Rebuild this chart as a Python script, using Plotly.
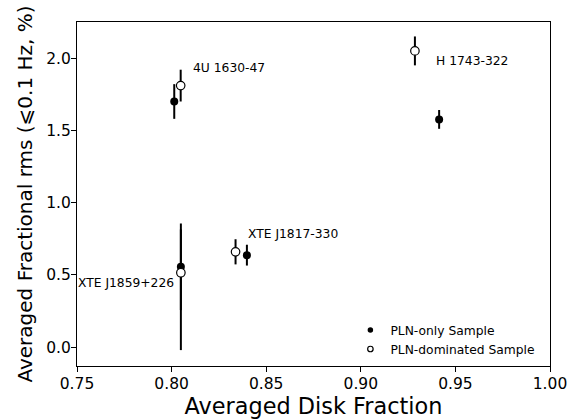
import plotly.graph_objects as go

# PLN-only sample (filled)
only_x = [0.8014, 0.9414, 0.8049, 0.8398]
only_y = [1.70, 1.576, 0.556, 0.637]
only_err = [0.12, 0.065, 0.30, 0.072]

# PLN-dominated sample (open)
dom_x = [0.8048, 0.9286, 0.8049, 0.8338]
dom_y = [1.81, 2.05, 0.515, 0.66]
dom_err_plus = [0.11, 0.10, 0.30, 0.087]
dom_err_minus = [0.11, 0.10, 0.535, 0.087]

# source labels
src_names = ["4U 1630-47", "H 1743-322", "XTE J1859+226", "XTE J1817-330"]
src_x = [0.8101, 0.9386, 0.8023, 0.8393]
src_y = [1.935, 1.978, 0.443, 0.782]
src_anchor = ["left", "left", "right", "left"]

xticks = [0.75, 0.80, 0.85, 0.90, 0.95, 1.00]
yticks = [0.0, 0.5, 1.0, 1.5, 2.0]

FONT = "DejaVu Sans"

fig = go.Figure()
fig.add_trace(go.Scatter(
    x=only_x, y=only_y, mode="markers", showlegend=False,
    marker=dict(symbol="circle", size=8, color="black", line=dict(width=0)),
    error_y=dict(type="data", array=only_err, symmetric=True, color="black", thickness=2, width=0),
))
fig.add_trace(go.Scatter(
    x=dom_x, y=dom_y, mode="markers", showlegend=False,
    marker=dict(symbol="circle", size=8.5, color="white", line=dict(width=1.2, color="black")),
    error_y=dict(type="data", array=dom_err_plus, arrayminus=dom_err_minus, symmetric=False,
                 color="black", thickness=2, width=0),
))
# legend entries
fig.add_trace(go.Scatter(
    x=[None], y=[None], mode="markers", name="PLN-only Sample",
    marker=dict(symbol="circle", size=5.5, color="black", line=dict(width=0)),
))
fig.add_trace(go.Scatter(
    x=[None], y=[None], mode="markers", name="PLN-dominated Sample",
    marker=dict(symbol="circle", size=5.5, color="white", line=dict(width=1.2, color="black")),
))

for n, xx, yy, an in zip(src_names, src_x, src_y, src_anchor):
    fig.add_annotation(x=xx, y=yy, text=n, showarrow=False, xanchor=an, yanchor="middle",
                       font=dict(family=FONT, size=12.3, color="black"))

axis_common = dict(
    showline=True, linecolor="black", linewidth=1, mirror=True,
    ticks="outside", ticklen=5, tickwidth=1, tickcolor="black",
    showgrid=False, zeroline=False, automargin=False,
    tickfont=dict(family=FONT, size=15.5, color="black"),
)

fig.update_layout(
    width=582, height=420,
    margin=dict(l=77, r=32, t=22, b=54),
    paper_bgcolor="white", plot_bgcolor="white",
    font=dict(family=FONT, color="black"),
    xaxis=dict(range=[0.75, 1.00], tickvals=xticks, ticktext=[f"{v:.2f}" for v in xticks],
               ticklabelstandoff=-2,
               title=dict(text="Averaged Disk Fraction", font=dict(family=FONT, size=22.4), standoff=4),
               **axis_common),
    yaxis=dict(range=[-0.13, 2.25], tickvals=yticks, ticktext=[f"{v:.1f}" for v in yticks],
               ticklabelstandoff=-3,
               title=dict(text="Averaged Fractional rms (⩽0.1 Hz, %)", font=dict(family=FONT, size=20), standoff=8),
               **axis_common),
    legend=dict(x=0.578, y=0.077, xanchor="left", yanchor="middle", bgcolor="rgba(0,0,0,0)",
                font=dict(family=FONT, size=12.3, color="black"), borderwidth=0, tracegroupgap=0),
)

fig.write_html("out.html", config={"displayModeBar": False},
               post_script="document.body.style.margin='0';document.body.style.padding='0';")
